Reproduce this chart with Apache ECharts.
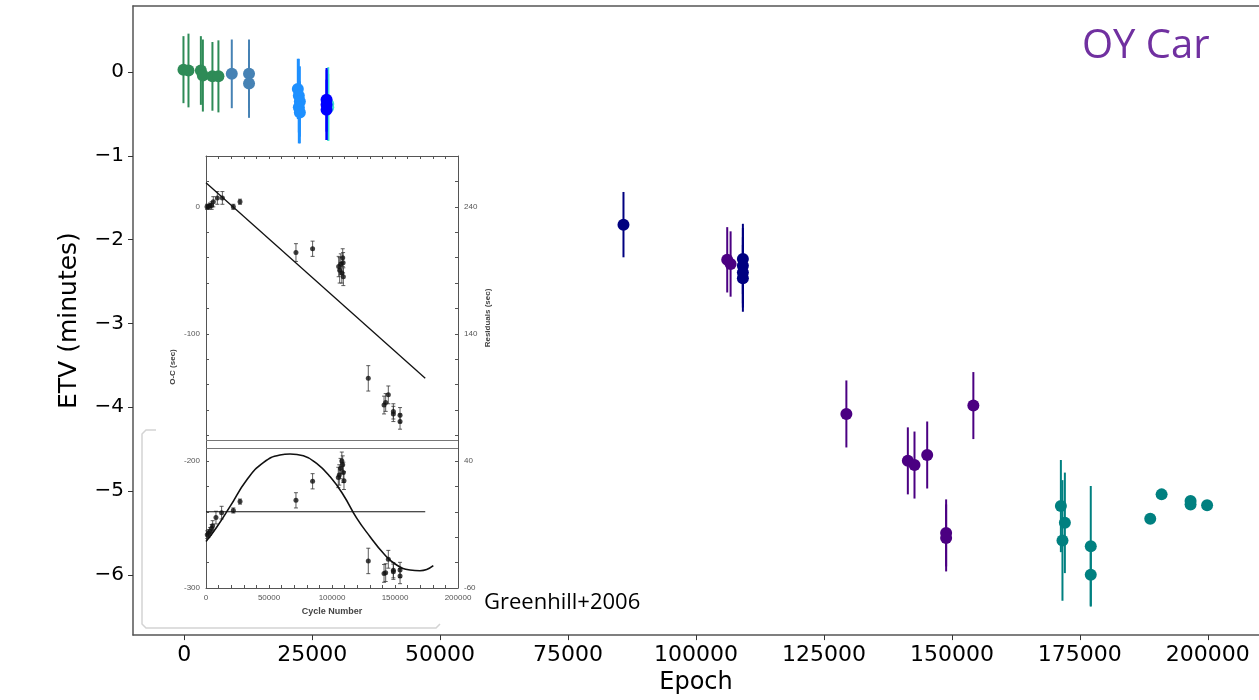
<!DOCTYPE html>
<html>
<head>
<meta charset="utf-8">
<script src="https://cdn.jsdelivr.net/npm/echarts@6/dist/echarts.min.js"></script>
<style>html,body{margin:0;padding:0;background:#fff}#c{width:1259px;height:700px}</style>
</head>
<body>
<div id="c"></div>
<script>
// ---------------- main chart data: [epoch, ETV (min), error (min)] ----------------
const xTicks = [0, 25000, 50000, 75000, 100000, 125000, 150000, 175000, 200000];
const yTicks = [-6, -5, -4, -3, -2, -1, 0];
const seaGreenPts = [[-140,0.03,0.40],[840,0.02,0.44],[3260,0.02,0.41],[3650,-0.04,0.43],[5520,-0.05,0.41],[6690,-0.05,0.43]];
const steelBluePts = [[9300,-0.02,0.41],[12670,-0.02,0.41],[12670,-0.135,0.41]];
const dodgerBluePts = [[22200,-0.20,0.36],[22400,-0.28,0.44],[22600,-0.35,0.42],[22400,-0.42,0.43],[22600,-0.48,0.37]];
const turquoisePts = [[28150,-0.38,0.44],[28150,-0.42,0.40]];
const bluePts = [[27820,-0.33,0.38],[27820,-0.39,0.42],[27820,-0.45,0.36]];
const indigoPts = [[106100,-2.24,0.39],[106760,-2.29,0.39],[129380,-4.08,0.40],[141390,-4.64,0.40],[142690,-4.69,0.40],[145170,-4.57,0.40],[148870,-5.50,0.40],[148870,-5.56,0.40],[154190,-3.98,0.40]];
const navyPts = [[85830,-1.82,0.39],[109160,-2.23,0.42],[109160,-2.31,0.45],[109160,-2.39,0.42],[109160,-2.46,0.40]];
const tealPts = [[171290,-5.18,0.55],[172070,-5.38,0.60],[171600,-5.59,0.72],[177130,-5.66,0.72],[177130,-6.00,0.37],[188750,-5.33,0.04],[190970,-5.04,0.03],[196630,-5.12,0.05],[196630,-5.16,0.03],[199860,-5.17,0.02]];

// ---------------- inset (Greenhill+2006) data ----------------
// top panel: [cycle, O-C (sec), err]
const insetOC = [[800,0,2],[2000,0,2],[3200,1,2],[4500,1,3],[5800,4,4],[9000,7,5],[13000,7,5],[21700,0,2],[27000,4,2],
  [71400,-36,7],[84600,-33,6],[105300,-47,8],[106100,-50,10],[107000,-45,8],[107800,-52,8],[108500,-40,7],[108800,-44,8],[109000,-55,7],
  [128800,-135,10],[141300,-156,7],[142600,-154,7],[144700,-148,7],[148700,-161,6],[148700,-163,6],[154000,-164,6],[154000,-169,6]];
const insetLinFit = [[0,19],[174000,-135]];
// bottom panel: [cycle, residual (sec), err]
const insetResid = [[1000,-18,3],[2000,-17,3],[3200,-15.5,3],[4500,-13,3],[5300,-11,4],[7900,-4.6,5],[12400,-0.7,5],[21700,1,2],[27000,8,2],
  [71400,9,6],[84600,24,6],[105000,27,8],[105800,29,8],[106800,34,8],[107800,40,7],[108500,37,7],[109000,31,8],[109500,24.5,7],
  [128800,-38.7,10],[141300,-48.5,7],[142600,-47.9,7],[144700,-37.4,7],[148700,-47.2,6],[148700,-46,6],[154000,-45.8,6],[154000,-50.6,6]];
const insetSineCycle = [0,8460,19000,32300,45500,58700,66700,77300,87800,98400,109000,119600,130200,140800,151300,161900,169800,180400];
const insetSineRes = [-23.5,-12.2,4,25,38.7,44.7,45.5,44,38,27.7,13.2,-5,-19.6,-32.7,-41.9,-45.8,-46.4,-42.4];
const insetZeroLine = [[0,0],[174000,0]];

function makeErr(color, lw, cap) {
  return function (params, api) {
    const x = api.value(0), y = api.value(1), e = api.value(2);
    const p1 = api.coord([x, y + e]), p2 = api.coord([x, y - e]);
    const ch = [{type:'line', shape:{x1:p1[0],y1:p1[1],x2:p2[0],y2:p2[1]}, style:{stroke:color,lineWidth:lw}}];
    if (cap) {
      ch.push({type:'line', shape:{x1:p1[0]-cap,y1:p1[1],x2:p1[0]+cap,y2:p1[1]}, style:{stroke:color,lineWidth:lw}});
      ch.push({type:'line', shape:{x1:p2[0]-cap,y1:p2[1],x2:p2[0]+cap,y2:p2[1]}, style:{stroke:color,lineWidth:lw}});
    }
    return {type:'group', children: ch};
  };
}

const series = [];
const groups = [
  [seaGreenPts,'#2e8b57'],[steelBluePts,'#4682b4'],[dodgerBluePts,'#1e90ff'],
  [turquoisePts,'#40e0d0'],[bluePts,'#0000ff'],[indigoPts,'#4b0082'],[navyPts,'#000080'],[tealPts,'#008080']
];
groups.forEach(function (g) {
  series.push({type:'custom', xAxisIndex:0, yAxisIndex:0, renderItem: makeErr(g[1], 2, 0), data: g[0], encode:{x:0,y:1}, silent:true});
  series.push({type:'scatter', xAxisIndex:0, yAxisIndex:0, data: g[0].map(p => [p[0], p[1]]), symbolSize: 12, itemStyle:{color:g[1], opacity:1}, silent:true});
});

// inset series
series.push({type:'line', xAxisIndex:2, yAxisIndex:1, data: insetLinFit, symbol:'none', lineStyle:{color:'#111', width:1.3}, silent:true,
  markLine:{silent:true, symbol:'none', label:{show:false}, lineStyle:{color:'#777', width:1, type:'solid'}, data:[{yAxis:-190},{yAxis:-183.8}]}});
series.push({type:'custom', xAxisIndex:2, yAxisIndex:1, renderItem: makeErr('#333', 0.8, 2), data: insetOC, encode:{x:0,y:1}, silent:true});
series.push({type:'scatter', xAxisIndex:2, yAxisIndex:1, data: insetOC.map(p => [p[0], p[1]]), symbolSize: 5, itemStyle:{color:'#111'}, silent:true});
series.push({type:'line', xAxisIndex:2, yAxisIndex:2, data: insetZeroLine, symbol:'none', lineStyle:{color:'#111', width:1}, silent:true});
series.push({type:'line', xAxisIndex:2, yAxisIndex:2, data: insetSineCycle.map((c,i) => [c, insetSineRes[i]]), smooth:true, symbol:'none', lineStyle:{color:'#111', width:1.6}, silent:true});
series.push({type:'custom', xAxisIndex:2, yAxisIndex:2, renderItem: makeErr('#333', 0.8, 2), data: insetResid, encode:{x:0,y:1}, silent:true});
series.push({type:'scatter', xAxisIndex:2, yAxisIndex:2, data: insetResid.map(p => [p[0], p[1]]), symbolSize: 5, itemStyle:{color:'#111'}, silent:true});

const minus = v => (v < 0 ? '\u2212' + Math.abs(v) : String(v));
const plain = v => String(v);
const insetLab = {fontSize: 8, color: '#555', fontFamily: 'Liberation Sans'};

const option = {
  animation: false,
  backgroundColor: '#fff',
  grid: [
    {left: 133, right: -2, top: 6, bottom: 64},
    {left: 206, top: 156, width: 252, height: 432}
  ],
  xAxis: [
    {type:'value', gridIndex:0, min:-10000, max:210000, position:'bottom',
     axisLine:{show:true, onZero:false, lineStyle:{color:'#555', width:1.5}},
     axisTick:{show:true, length:5, customValues:xTicks, lineStyle:{color:'#333', width:1}},
     axisLabel:{customValues:xTicks, fontSize:22, color:'#000', fontFamily:'DejaVu Sans', margin:9, formatter: plain},
     splitLine:{show:false},
     name:'Epoch', nameLocation:'middle', nameGap:35, nameTextStyle:{fontSize:24, color:'#000', fontFamily:'DejaVu Sans'}},
    {type:'value', gridIndex:0, min:-10000, max:210000, position:'top',
     axisLine:{show:true, onZero:false, lineStyle:{color:'#555', width:1.5}}, axisTick:{show:false}, axisLabel:{show:false}, splitLine:{show:false}},
    {type:'value', gridIndex:1, min:0, max:200000, interval:50000, position:'bottom',
     axisLine:{show:true, onZero:false, lineStyle:{color:'#555', width:1}},
     axisTick:{show:true, inside:true, length:3, lineStyle:{color:'#555'}},
     minorTick:{show:true, splitNumber:5, length:3, lineStyle:{color:'#555'}},
     axisLabel:Object.assign({margin:6, formatter: plain}, insetLab), splitLine:{show:false},
     name:'Cycle Number', nameLocation:'middle', nameGap:19, nameTextStyle:{fontSize:9, fontWeight:'bold', color:'#444', fontFamily:'Liberation Sans'}},
    {type:'value', gridIndex:1, min:0, max:200000, interval:50000, position:'top',
     axisLine:{show:true, onZero:false, lineStyle:{color:'#555', width:1}},
     axisTick:{show:true, inside:true, length:3, lineStyle:{color:'#555'}},
     minorTick:{show:true, splitNumber:5, length:3, lineStyle:{color:'#555'}},
     axisLabel:{show:false}, splitLine:{show:false}}
  ],
  yAxis: [
    {type:'value', gridIndex:0, min:-6.72, max:0.79, position:'left',
     axisLine:{show:true, onZero:false, lineStyle:{color:'#555', width:1.5}},
     axisTick:{show:true, length:5, customValues:yTicks, lineStyle:{color:'#333', width:1}},
     axisLabel:{customValues:yTicks, fontSize:20, color:'#000', fontFamily:'DejaVu Sans', margin:9, formatter: minus},
     splitLine:{show:false},
     name:'ETV (minutes)', nameLocation:'middle', nameGap:51, nameTextStyle:{fontSize:25, color:'#000', fontFamily:'DejaVu Sans'}},
    {type:'value', gridIndex:1, min:-300, max:40, interval:20, position:'left',
     axisLine:{show:true, onZero:false, lineStyle:{color:'#555', width:1}},
     axisTick:{show:true, inside:true, length:3, lineStyle:{color:'#555'}},
     axisLabel:Object.assign({margin:6, formatter: v => (v % 100 === 0 ? String(v) : '')}, insetLab), splitLine:{show:false}},
    {type:'value', gridIndex:1, min:-60, max:280, interval:20, position:'right',
     axisLine:{show:true, onZero:false, lineStyle:{color:'#555', width:1}},
     axisTick:{show:true, inside:true, length:3, lineStyle:{color:'#555'}},
     axisLabel:Object.assign({margin:6, formatter: v => ((v - 40) % 100 === 0 ? String(v) : '')}, insetLab), splitLine:{show:false}}
  ],
  graphic: [
    {type:'polyline', z:-1, shape:{points:[[156,430],[146,430],[142,434],[142,624],[146,628],[436,628],[440,624]]}, style:{stroke:'#d3d3d3', lineWidth:1.5, fill:null}},
    {type:'text', x:1082, y:47, style:{text:'OY Car', font:'40px "Open Sans"', fill:'#7030a0', align:'left', verticalAlign:'middle'}},
    {type:'text', x:484, y:603, style:{text:'Greenhill+2006', font:'22px "Open Sans"', fill:'#000', align:'left', verticalAlign:'middle'}},
    {type:'text', x:173, y:367, rotation:Math.PI/2, style:{text:'O-C (sec)', font:'bold 8px "Liberation Sans"', fill:'#444', align:'center', verticalAlign:'middle'}},
    {type:'text', x:488, y:318, rotation:Math.PI/2, style:{text:'Residuals (sec)', font:'bold 8px "Liberation Sans"', fill:'#444', align:'center', verticalAlign:'middle'}}
  ],
  series: series
};
const chart = echarts.init(document.getElementById('c'), null, {renderer:'canvas'});
chart.setOption(option);
</script>
</body>
</html>
